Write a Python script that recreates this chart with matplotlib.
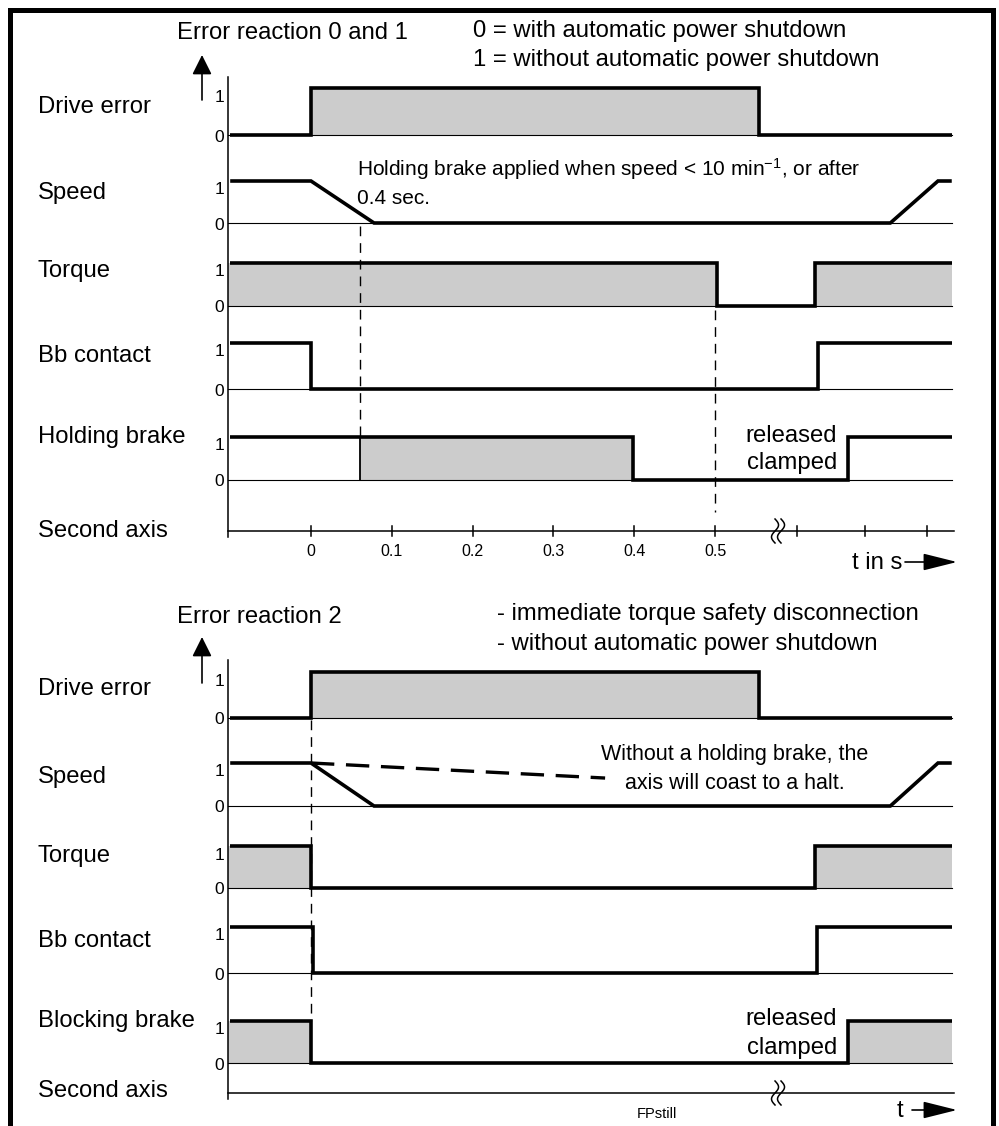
import numpy as np
import matplotlib
matplotlib.use('Agg')
import matplotlib.pyplot as plt

plt.rcParams['font.family'] = ['Liberation Sans', 'DejaVu Sans']
plt.rcParams['mathtext.fontset'] = 'custom'
plt.rcParams['mathtext.rm'] = 'Liberation Sans'
plt.rcParams['mathtext.it'] = 'Liberation Sans:italic'

# time in s (after the break the scale is only schematic)
t_start, t_end = -0.1, 0.793
t_axis_start, t_axis_end = -0.103, 0.796
tick_times = [0, 0.1, 0.2, 0.3, 0.4, 0.5]
tick_labels = ['0', '0.1', '0.2', '0.3', '0.4', '0.5']
late_ticks = [0.601, 0.686, 0.762]
t_break = 0.578

# error reaction 0 and 1
err_t = [t_start, 0, 0, 0.554, 0.554, t_end]
err_v = [0, 0, 1, 1, 0, 0]
err_fill = [(0, 0.554)]
speed_t = [t_start, 0, 0.078, 0.717, 0.776, t_end]
speed_v = [1, 1, 0, 0, 1, 1]
torque1_t = [t_start, 0.502, 0.502, 0.624, 0.624, t_end]
torque1_v = [1, 1, 0, 0, 1, 1]
torque1_fill = [(t_axis_start, 0.502), (0.624, t_end)]
bb1_t = [t_start, 0, 0, 0.627, 0.627, t_end]
bb1_v = [1, 1, 0, 0, 1, 1]
brake1_t = [t_start, 0.399, 0.399, 0.665, 0.665, t_end]
brake1_v = [1, 1, 0, 0, 1, 1]
brake1_fill = [(0.061, 0.399)]
brake_applied = 0.061

# error reaction 2
coast_t = [0, 0.364]
coast_v = [1, 0.65]
torque2_t = [t_start, 0, 0, 0.624, 0.624, t_end]
torque2_v = [1, 1, 0, 0, 1, 1]
torque2_fill = [(t_axis_start, 0), (0.624, t_end)]
bb2_t = [t_start, 0.003, 0.003, 0.626, 0.626, t_end]
bb2_v = [1, 1, 0, 0, 1, 1]
brake2_t = [t_start, 0, 0, 0.665, 0.665, t_end]
brake2_v = [1, 1, 0, 0, 1, 1]
brake2_fill = [(t_axis_start, 0), (0.665, t_end)]

GRAY = '#cccccc'
FS = 17.2

fig = plt.figure(figsize=(9.99, 11.26), dpi=100)
ax = fig.add_axes([0, 0, 1, 1])
ax.set_xlim(-311 / 808, (999 - 311) / 808)
ax.set_ylim(1126, 0)
ax.axis('off')


def px(x):
    return (x - 311) / 808


def signal(t, v, top, bot, fills=(), lw=2.6):
    ax.plot([t_axis_start, t_end], [bot, bot], color='black', lw=0.8)
    for a, b in fills:
        ax.fill_between([a, b], bot, top, color=GRAY, lw=0)
    y = [bot - val * (bot - top) for val in v]
    ax.plot(t, y, color='black', lw=lw, solid_joinstyle='miter', solid_capstyle='butt')
    ax.text(px(224), top + 9, '1', fontsize=12.5, ha='right', va='center')
    ax.text(px(224), bot + 2, '0', fontsize=12.5, ha='right', va='center')


def time_axis(y, top, numbered):
    ax.plot([t_axis_start, t_axis_start], [top, y + 6], color='black', lw=1.1)
    ax.plot([t_axis_start, t_axis_end], [y, y], color='black', lw=1.1)
    if numbered:
        for t, lab in zip(tick_times, tick_labels):
            ax.plot([t, t], [y - 5, y + 5], color='black', lw=1.1)
            ax.text(t, y + 20, lab, fontsize=11.5, ha='center', va='center')
        for t in late_ticks:
            ax.plot([t, t], [y - 5, y + 5], color='black', lw=1.1)
    # break mark: two small S-curves
    ax.fill_betweenx([y - 2, y + 2], t_break - 3 / 808, t_break + 3 / 808, color='white', lw=0)
    s = np.linspace(-1, 1, 60)
    for dx in (-3, 3):
        ax.plot(t_break + (dx - 3.5 * np.sin(np.pi * s)) / 808, y + 12 * s,
                color='black', lw=1.1)


def up_arrow(y_top, y_bot):
    ax.annotate('', xy=(px(202), y_top), xytext=(px(202), y_bot),
                arrowprops=dict(arrowstyle='-|>,head_length=0.8,head_width=0.4',
                                mutation_scale=15, lw=1.2, color='black',
                                shrinkA=0, shrinkB=0))


def right_arrow(x0, y):
    ax.annotate('', xy=(px(957), y), xytext=(px(x0), y),
                arrowprops=dict(arrowstyle='-|>,head_length=1.4,head_width=0.35',
                                mutation_scale=15, lw=1.2, color='black',
                                shrinkA=0, shrinkB=0))


# ---------------- panel 1 ----------------
ax.text(px(177), 39, 'Error reaction 0 and 1', fontsize=FS, ha='left', va='baseline')
ax.text(px(473), 37, '0 = with automatic power shutdown', fontsize=FS, ha='left', va='baseline')
ax.text(px(473), 66, '1 = without automatic power shutdown', fontsize=FS, ha='left', va='baseline')
up_arrow(55, 100)

labels1 = ['Drive error', 'Speed', 'Torque', 'Bb contact', 'Holding brake', 'Second axis']
label_y1 = [113, 199, 277, 362, 443, 537]
for lab, yb in zip(labels1, label_y1):
    ax.text(px(38), yb, lab, fontsize=FS, ha='left', va='baseline')

signal(err_t, err_v, 88, 135, err_fill)
signal(speed_t, speed_v, 181, 223)
signal(torque1_t, torque1_v, 263, 306, torque1_fill)
signal(bb1_t, bb1_v, 343, 389)
signal(brake1_t, brake1_v, 437, 480, brake1_fill)
ax.plot([brake_applied, brake_applied], [437, 480], color='black', lw=1.3)

ax.plot([brake_applied, brake_applied], [226, 437], color='black', lw=1.0, ls=(0, (7, 5)))
ax.plot([0.5, 0.5], [310, 512], color='black', lw=1.0, ls=(0, (7, 5)))

ax.text(px(357), 176, 'Holding brake applied when speed < 10 min$^{-1}$, or after',
        fontsize=15, ha='left', va='baseline')
ax.text(px(357), 204, '0.4 sec.', fontsize=15, ha='left', va='baseline')
ax.text(px(837), 442, 'released', fontsize=FS, ha='right', va='baseline')
ax.text(px(837), 469, 'clamped', fontsize=FS, ha='right', va='baseline')

time_axis(531, 77, True)
ax.text(px(852), 569, 't in s', fontsize=FS, ha='left', va='baseline')
right_arrow(905, 562)

# ---------------- panel 2 ----------------
ax.text(px(177), 623, 'Error reaction 2', fontsize=FS, ha='left', va='baseline')
ax.text(px(497), 620, '- immediate torque safety disconnection', fontsize=FS, ha='left', va='baseline')
ax.text(px(497), 650, '- without automatic power shutdown', fontsize=FS, ha='left', va='baseline')
up_arrow(637, 683)

labels2 = ['Drive error', 'Speed', 'Torque', 'Bb contact', 'Blocking brake', 'Second axis']
label_y2 = [695, 783, 862, 947, 1027, 1097]
for lab, yb in zip(labels2, label_y2):
    ax.text(px(38), yb, lab, fontsize=FS, ha='left', va='baseline')

signal(err_t, err_v, 672, 718, err_fill)
signal(speed_t, speed_v, 763, 806)
ax.plot(coast_t, [806 - v * (806 - 763) for v in coast_v], color='black', lw=2.4,
        ls=(0, (7, 3.5)))
signal(torque2_t, torque2_v, 846, 888, torque2_fill)
signal(bb2_t, bb2_v, 927, 973)
signal(brake2_t, brake2_v, 1021, 1063, brake2_fill)

ax.plot([0, 0], [720, 1021], color='black', lw=1.0, ls=(0, (7, 5)))

ax.text(px(735), 760, 'Without a holding brake, the', fontsize=15.5, ha='center', va='baseline')
ax.text(px(735), 789, 'axis will coast to a halt.', fontsize=15.5, ha='center', va='baseline')
ax.text(px(837), 1025, 'released', fontsize=FS, ha='right', va='baseline')
ax.text(px(837), 1054, 'clamped', fontsize=FS, ha='right', va='baseline')

time_axis(1093, 660, False)
ax.text(px(897), 1117, 't', fontsize=FS, ha='left', va='baseline')
right_arrow(912, 1110)
ax.text(px(657), 1114, 'FPstill', fontsize=10.5, ha='center', va='center')

# frame
ax.plot([px(9.5), px(9.5), px(992.5), px(992.5)], [1130, 9.5, 9.5, 1130],
        color='black', lw=3.6, solid_joinstyle='miter', clip_on=False)

fig.savefig('out.png', dpi=100)
